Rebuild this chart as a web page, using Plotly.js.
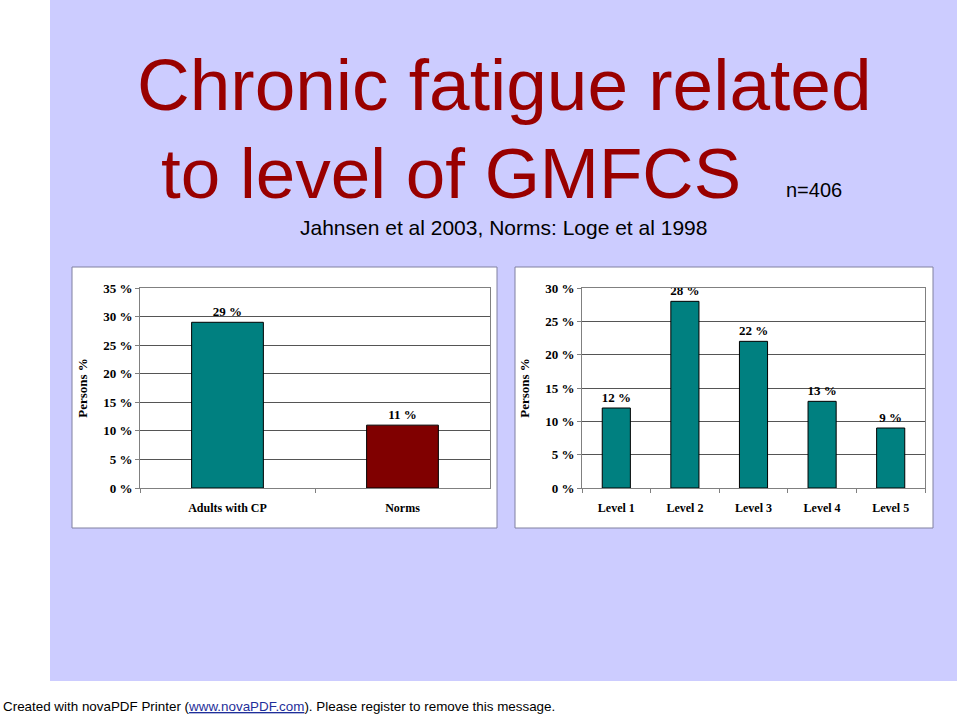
<!DOCTYPE html>
<html>
<head>
<meta charset="utf-8">
<script src="https://cdn.plot.ly/plotly-3.0.1.min.js"></script>
<style>html,body{margin:0;padding:0;background:#fff}#chart{width:960px;height:716px}</style>
</head>
<body>
<div id="chart"></div>
<script>
// Data
const groupCategories = ['Adults with CP', 'Norms'];
const groupValues = [29, 11];
const groupColors = ['#008080', '#800000'];
const levelCategories = ['Level 1', 'Level 2', 'Level 3', 'Level 4', 'Level 5'];
const levelValues = [12, 28, 22, 13, 9];
const titleLine1 = 'Chronic fatigue related';
const titleLine2 = 'to level of GMFCS';
const sampleText = 'n=406';
const subtitleText = 'Jahnsen et al 2003, Norms: Loge et al 1998';

const W = 960, H = 716;
const px = x => x / W;
const py = y => 1 - y / H;

const serif = 'Liberation Serif, Times New Roman, serif';
const sans = 'Liberation Sans, Arial, sans-serif';

const barCommon = {
  type: 'bar',
  texttemplate: '%{y}',
  textposition: 'outside',
  constraintext: 'none',
  cliponaxis: false,
  textfont: {family: serif, size: 13, color: '#000', weight: 'bold'},
  hoverinfo: 'skip'
};

const traces = [
  Object.assign({}, barCommon, {
    x: groupCategories, y: groupValues, xaxis: 'x', yaxis: 'y',
    marker: {color: groupColors, line: {color: '#000', width: 1}}
  }),
  Object.assign({}, barCommon, {
    x: levelCategories, y: levelValues, xaxis: 'x2', yaxis: 'y2',
    marker: {color: '#008080', line: {color: '#000', width: 1}}
  })
];

const xCommon = {
  showline: true, linecolor: '#808080', linewidth: 1, mirror: true,
  ticks: 'outside', tickson: 'boundaries', ticklen: 4, tickcolor: '#808080',
  ticklabelstandoff: 9,
  tickfont: {family: serif, size: 12, color: '#000', weight: 'bold'},
  fixedrange: true
};
const yCommon = {
  showline: true, linecolor: '#808080', linewidth: 1, mirror: true,
  ticks: 'outside', ticklen: 4, tickcolor: '#808080',
  ticksuffix: ' %', dtick: 5,
  showgrid: true, gridcolor: '#555555', gridwidth: 1,
  zeroline: false,
  tickfont: {family: serif, size: 13, color: '#000', weight: 'bold'},
  title: {text: 'Persons %', font: {family: serif, size: 13, color: '#000', weight: 'bold'}, standoff: 12},
  fixedrange: true
};

const layout = {
  width: W, height: H,
  margin: {l: 0, r: 0, t: 0, b: 0},
  paper_bgcolor: '#ffffff',
  plot_bgcolor: '#c0c0c0',
  showlegend: false,
  bargap: 0.59,
  xaxis: Object.assign({}, xCommon, {domain: [px(140), px(490)], anchor: 'y'}),
  yaxis: Object.assign({}, yCommon, {domain: [py(488), py(288)], range: [0, 35], anchor: 'x'}),
  xaxis2: Object.assign({}, xCommon, {domain: [px(582), px(925)], anchor: 'y2'}),
  yaxis2: Object.assign({}, yCommon, {domain: [py(488), py(288)], range: [0, 30], anchor: 'x2'}),
  shapes: [
    {type: 'rect', xref: 'paper', yref: 'paper', x0: px(50), x1: px(957), y0: py(681), y1: py(0),
     fillcolor: '#ccccff', line: {width: 0}, layer: 'below'},
    {type: 'rect', xref: 'paper', yref: 'paper', x0: px(72), x1: px(497), y0: py(528), y1: py(267),
     fillcolor: '#ffffff', line: {color: '#8080a0', width: 1}, layer: 'below'},
    {type: 'rect', xref: 'paper', yref: 'paper', x0: px(515), x1: px(933), y0: py(528), y1: py(267),
     fillcolor: '#ffffff', line: {color: '#8080a0', width: 1}, layer: 'below'}
  ],
  annotations: [
    {text: titleLine1, xref: 'paper', yref: 'paper', x: px(504), y: py(84), xanchor: 'center', yanchor: 'middle',
     showarrow: false, font: {family: sans, size: 73, color: '#990000'}},
    {text: titleLine2, xref: 'paper', yref: 'paper', x: px(451), y: py(174), xanchor: 'center', yanchor: 'middle',
     showarrow: false, font: {family: sans, size: 71, color: '#990000'}},
    {text: sampleText, xref: 'paper', yref: 'paper', x: px(814), y: py(190), xanchor: 'center', yanchor: 'middle',
     showarrow: false, font: {family: sans, size: 20, color: '#000'}},
    {text: subtitleText, xref: 'paper', yref: 'paper', x: px(503), y: py(228), xanchor: 'center', yanchor: 'middle',
     showarrow: false, font: {family: sans, size: 21, color: '#000'}},
    {text: 'Created with novaPDF Printer (<span style="color:#1f2f9a;text-decoration:underline">www.novaPDF.com</span>). Please register to remove this message.',
     xref: 'paper', yref: 'paper', x: px(1), y: py(706), xanchor: 'left', yanchor: 'middle',
     showarrow: false, font: {family: sans, size: 13.4, color: '#000'}}
  ]
};

Plotly.newPlot('chart', traces, layout, {staticPlot: true, displayModeBar: false});
</script>
</body>
</html>
